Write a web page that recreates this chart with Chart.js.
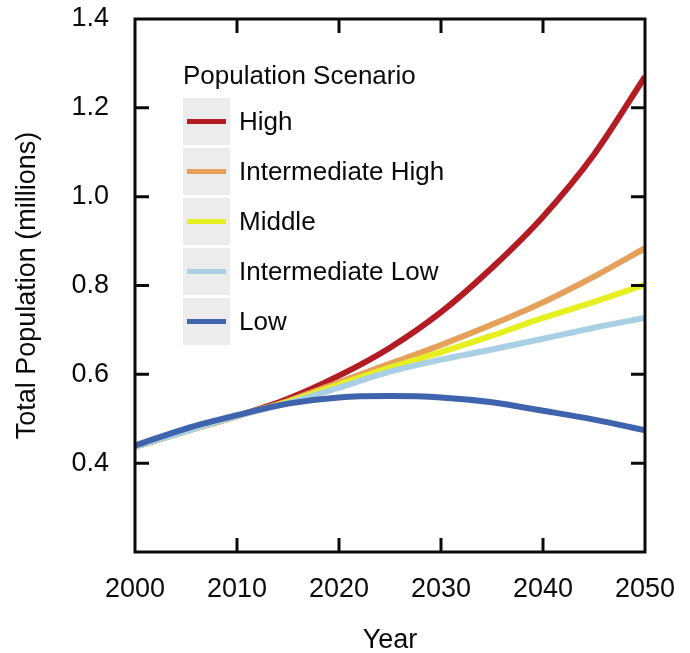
<!DOCTYPE html>
<html>
<head>
<meta charset="utf-8">
<script src="https://cdn.jsdelivr.net/npm/chart.js@4.4.1/dist/chart.umd.min.js"></script>
<style>
  html, body { margin: 0; padding: 0; background: #fff; }
  #wrap { width: 690px; height: 653px; }
</style>
</head>
<body>
<div id="wrap"><canvas id="popChart" width="690" height="653"></canvas></div>
<script>
// years and projected totals (millions)
const years = [2000, 2005, 2010, 2015, 2020, 2025, 2030, 2035, 2040, 2045, 2050];
const highPop = [0.437, 0.472, 0.506, 0.545, 0.597, 0.660, 0.740, 0.840, 0.955, 1.095, 1.270];
const interHighPop = [0.437, 0.472, 0.506, 0.540, 0.582, 0.624, 0.666, 0.712, 0.762, 0.820, 0.884];
const middlePop = [0.437, 0.472, 0.506, 0.538, 0.577, 0.615, 0.650, 0.687, 0.727, 0.763, 0.802];
const interLowPop = [0.437, 0.472, 0.506, 0.535, 0.570, 0.606, 0.633, 0.656, 0.680, 0.705, 0.727];
const lowPop = [0.440, 0.478, 0.508, 0.534, 0.548, 0.551, 0.548, 0.537, 0.518, 0.498, 0.474];

const scenarioNames = ['High', 'Intermediate High', 'Middle', 'Intermediate Low', 'Low'];
const scenarioColors = ['#b21c22', '#e5a05a', '#e6f021', '#a9cfe4', '#4063ad'];
const yTicks = [0.2, 0.4, 0.6, 0.8, 1.0, 1.2, 1.4];
const xTicks = [2000, 2010, 2020, 2030, 2040, 2050];

const FONT = '"Liberation Sans", Arial, Helvetica, sans-serif';
const INK = '#0a0a0a';

function toPoints(vals) {
  return years.map((yr, i) => ({ x: yr, y: vals[i] }));
}

const series = [highPop, interHighPop, middlePop, interLowPop, lowPop];
const datasets = series.map((vals, i) => ({
  label: scenarioNames[i],
  data: toPoints(vals),
  borderColor: scenarioColors[i],
  backgroundColor: scenarioColors[i],
  borderWidth: 6,
  pointRadius: 0,
  cubicInterpolationMode: 'monotone',
  order: series.length - i  // Low drawn last, on top
}));

// box around the plot with inward ticks on all four sides
const frame = {
  id: 'frame',
  afterDatasetsDraw(chart) {
    const { ctx, chartArea: a, scales } = chart;
    const len = 14;
    ctx.save();
    ctx.strokeStyle = INK;
    ctx.lineWidth = 3;
    ctx.lineCap = 'butt';
    ctx.strokeRect(a.left, a.top, a.right - a.left, a.bottom - a.top);
    ctx.beginPath();
    yTicks.slice(1, -1).forEach(v => {
      const py = scales.y.getPixelForValue(v);
      ctx.moveTo(a.left, py); ctx.lineTo(a.left + len, py);
      ctx.moveTo(a.right, py); ctx.lineTo(a.right - len, py);
    });
    xTicks.slice(1, -1).forEach(v => {
      const px = scales.x.getPixelForValue(v);
      ctx.moveTo(px, a.bottom); ctx.lineTo(px, a.bottom - len);
      ctx.moveTo(px, a.top); ctx.lineTo(px, a.top + len);
    });
    ctx.stroke();
    ctx.restore();
  }
};

// ggplot-like legend with grey key boxes
const keyLegend = {
  id: 'keyLegend',
  afterDraw(chart) {
    const ctx = chart.ctx;
    const x0 = 183, titleY = 77, boxTop = 98, box = 47, step = 50;
    ctx.save();
    ctx.fillStyle = INK;
    ctx.font = '26px ' + FONT;
    ctx.textBaseline = 'middle';
    ctx.textAlign = 'left';
    ctx.fillText('Population Scenario', x0, titleY);
    chart.data.datasets.forEach((ds, i) => {
      const top = boxTop + i * step;
      ctx.fillStyle = '#ececec';
      ctx.fillRect(x0, top, box, box);
      ctx.strokeStyle = ds.borderColor;
      ctx.lineWidth = 5;
      ctx.beginPath();
      ctx.moveTo(x0 + 4, top + box / 2);
      ctx.lineTo(x0 + box - 4, top + box / 2);
      ctx.stroke();
      ctx.fillStyle = INK;
      ctx.fillText(ds.label, x0 + 56, top + box / 2 + 1);
    });
    ctx.restore();
  }
};

const chart = new Chart(document.getElementById('popChart'), {
  type: 'line',
  data: { datasets: datasets },
  options: {
    responsive: false,
    animation: false,
    devicePixelRatio: 1,
    layout: { padding: { top: 19, right: 45, left: 0, bottom: 0 } },
    plugins: {
      legend: { display: false },
      tooltip: { enabled: false }
    },
    scales: {
      x: {
        type: 'linear',
        min: 2000,
        max: 2050,
        grid: { display: false, drawTicks: false },
        border: { display: false },
        afterBuildTicks: s => { s.ticks = xTicks.map(v => ({ value: v })); },
        afterFit: s => { s.height = 101; s.paddingLeft = 0; s.paddingRight = 0; },
        ticks: {
          padding: 21,
          color: INK,
          font: { family: FONT, size: 27 },
          maxRotation: 0,
          callback: v => String(v)
        },
        title: {
          display: true,
          text: 'Year',
          color: INK,
          font: { family: FONT, size: 27, lineHeight: 0.9 },
          padding: { top: 0, bottom: 0 }
        }
      },
      y: {
        min: 0.2,
        max: 1.4,
        grid: { display: false, drawTicks: false },
        border: { display: false },
        afterBuildTicks: s => { s.ticks = yTicks.map(v => ({ value: v })); },
        afterFit: s => { s.width = 135; s.paddingTop = 0; s.paddingBottom = 0; },
        ticks: {
          padding: 26,
          color: INK,
          font: { family: FONT, size: 27 },
          callback: v => (v < 0.3 ? '' : v.toFixed(1))
        },
        title: {
          display: true,
          text: 'Total Population (millions)',
          color: INK,
          font: { family: FONT, size: 27 },
          padding: { top: 11, bottom: 0 }
        }
      }
    }
  },
  plugins: [frame, keyLegend]
});
</script>
</body>
</html>
